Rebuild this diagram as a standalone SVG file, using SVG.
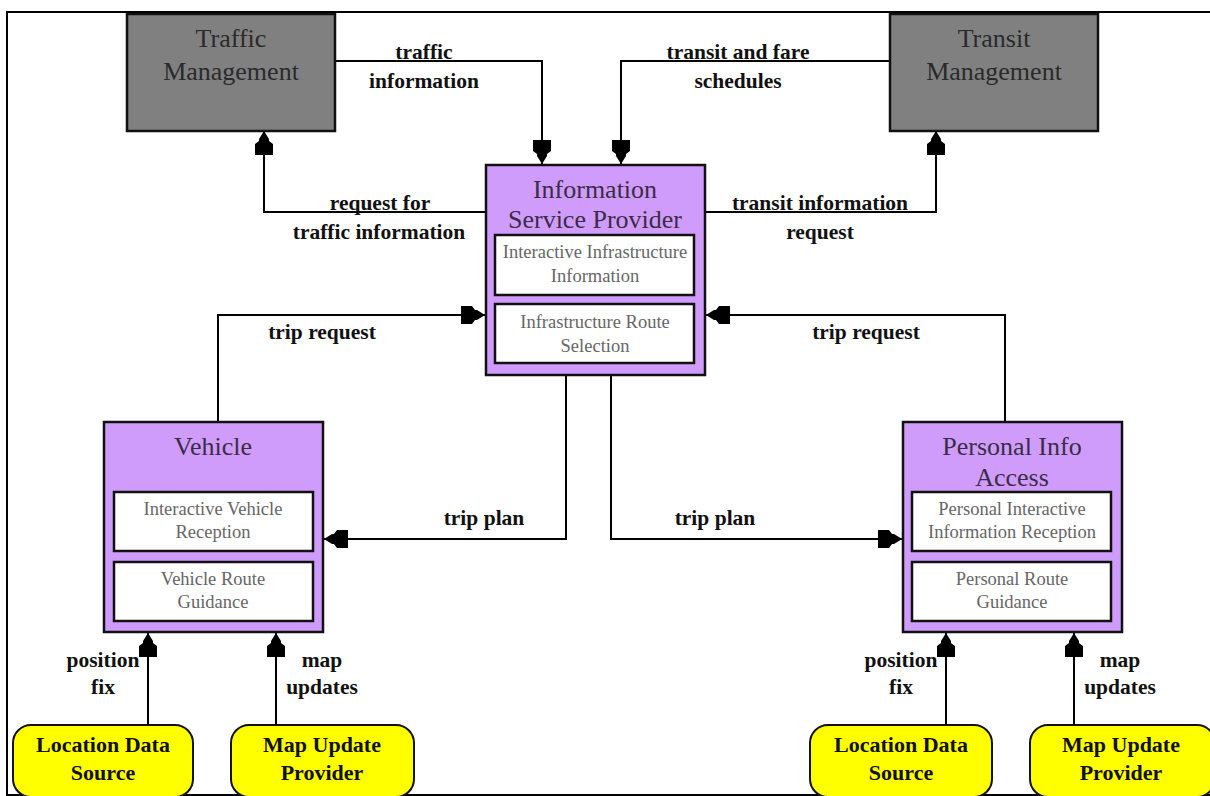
<svg xmlns="http://www.w3.org/2000/svg" width="1210" height="796" viewBox="0 0 1210 796">
<style>
.frame{fill:none;stroke:#000;stroke-width:2}
.gray{fill:#808080;stroke:#111;stroke-width:2.5}
.purple{fill:#d09cfb;stroke:#111;stroke-width:2.5}
.inner{fill:#fff;stroke:#111;stroke-width:2.5}
.yellow{fill:#ffff00;stroke:#111;stroke-width:2}
.title{font-family:"Liberation Serif","Times New Roman",serif;font-size:26px;fill:#2a2a2a;text-anchor:middle}
.ptitle{font-family:"Liberation Serif","Times New Roman",serif;font-size:26px;fill:#3a2c48;text-anchor:middle}
.sub{font-family:"Liberation Serif","Times New Roman",serif;font-size:18.5px;fill:#666;text-anchor:middle}
.ext{font-family:"Liberation Serif","Times New Roman",serif;font-size:22px;font-weight:bold;fill:#111;text-anchor:middle}
.lbl{font-family:"Liberation Serif","Times New Roman",serif;font-size:21.5px;font-weight:bold;fill:#111;text-anchor:middle}
.conn{fill:none;stroke:#000;stroke-width:2;marker-end:url(#ah)}
</style>
<defs>
<marker id="ah" markerUnits="userSpaceOnUse" viewBox="-25 -10 26 20" refX="0" refY="0" markerWidth="26" markerHeight="20" orient="auto">
<path d="M0,0 L-8,-5 L-10,-5 L-13,-9 L-24,-9 L-24,9 L-13,9 L-10,5 L-8,5 Z" fill="#000"/>
</marker>
</defs>
<rect class="frame" x="7" y="12" width="1215" height="783"/>

<g id="connectors">
<path class="conn" d="M335,61 H542 V164"/>
<path class="conn" d="M890,61 H621 V164"/>
<path class="conn" d="M486,212 H264 V131"/>
<path class="conn" d="M705,212 H936 V131"/>
<path class="conn" d="M218,422 V315 H485"/>
<path class="conn" d="M1005,422 V315 H706"/>
<path class="conn" d="M566,375 V539 H324"/>
<path class="conn" d="M611,375 V539 H902"/>
<path class="conn" d="M148,726 V633"/>
<path class="conn" d="M276,726 V633"/>
<path class="conn" d="M946,726 V633"/>
<path class="conn" d="M1074,726 V633"/>
<g id="labels">
<text class="lbl" x="424" y="59">traffic</text>
<text class="lbl" x="424" y="88">information</text>
<text class="lbl" x="738" y="59">transit and fare</text>
<text class="lbl" x="738" y="88">schedules</text>
<text class="lbl" x="380" y="210">request for</text>
<text class="lbl" x="379" y="239">traffic information</text>
<text class="lbl" x="820" y="210">transit information</text>
<text class="lbl" x="820" y="239">request</text>
<text class="lbl" x="322" y="339">trip request</text>
<text class="lbl" x="866" y="339">trip request</text>
<text class="lbl" x="484" y="525">trip plan</text>
<text class="lbl" x="715" y="525">trip plan</text>
<text class="lbl" x="103" y="667">position</text>
<text class="lbl" x="103" y="694">fix</text>
<text class="lbl" x="322" y="667">map</text>
<text class="lbl" x="322" y="694">updates</text>
<text class="lbl" x="901" y="667">position</text>
<text class="lbl" x="901" y="694">fix</text>
<text class="lbl" x="1120" y="667">map</text>
<text class="lbl" x="1120" y="694">updates</text>
</g>
</g>

<g id="traffic-management">
<rect class="gray" x="127" y="14" width="208" height="117"/>
<text class="title" x="231" y="47">Traffic</text>
<text class="title" x="231" y="80">Management</text>
</g>

<g id="transit-management">
<rect class="gray" x="890" y="14" width="208" height="117"/>
<text class="title" x="994" y="47">Transit</text>
<text class="title" x="994" y="80">Management</text>
</g>

<g id="isp">
<rect class="purple" x="486" y="165" width="219" height="210"/>
<text class="ptitle" x="595" y="198">Information</text>
<text class="ptitle" x="595" y="228">Service Provider</text>
<rect class="inner" x="495" y="235" width="199" height="60"/>
<text class="sub" x="595" y="258">Interactive Infrastructure</text>
<text class="sub" x="595" y="282">Information</text>
<rect class="inner" x="495" y="304" width="199" height="59"/>
<text class="sub" x="595" y="328">Infrastructure Route</text>
<text class="sub" x="595" y="352">Selection</text>
</g>

<g id="vehicle">
<rect class="purple" x="104" y="422" width="219" height="210"/>
<text class="ptitle" x="213" y="455">Vehicle</text>
<rect class="inner" x="114" y="492" width="199" height="59"/>
<text class="sub" x="213" y="515">Interactive Vehicle</text>
<text class="sub" x="213" y="538">Reception</text>
<rect class="inner" x="114" y="562" width="199" height="59"/>
<text class="sub" x="213" y="585">Vehicle Route</text>
<text class="sub" x="213" y="608">Guidance</text>
</g>

<g id="personal-info-access">
<rect class="purple" x="903" y="422" width="219" height="210"/>
<text class="ptitle" x="1012" y="455">Personal Info</text>
<text class="ptitle" x="1012" y="486">Access</text>
<rect class="inner" x="912" y="492" width="199" height="59"/>
<text class="sub" x="1012" y="515">Personal Interactive</text>
<text class="sub" x="1012" y="538">Information Reception</text>
<rect class="inner" x="912" y="562" width="199" height="59"/>
<text class="sub" x="1012" y="585">Personal Route</text>
<text class="sub" x="1012" y="608">Guidance</text>
</g>

<g id="location-data-source-1">
<rect class="yellow" x="13" y="725" width="180" height="72" rx="18"/>
<text class="ext" x="103" y="752">Location Data</text>
<text class="ext" x="103" y="780">Source</text>
</g>

<g id="map-update-provider-1">
<rect class="yellow" x="231" y="725" width="183" height="72" rx="18"/>
<text class="ext" x="322" y="752">Map Update</text>
<text class="ext" x="322" y="780">Provider</text>
</g>

<g id="location-data-source-2">
<rect class="yellow" x="810" y="725" width="182" height="72" rx="18"/>
<text class="ext" x="901" y="752">Location Data</text>
<text class="ext" x="901" y="780">Source</text>
</g>

<g id="map-update-provider-2">
<rect class="yellow" x="1030" y="725" width="185" height="72" rx="18"/>
<text class="ext" x="1121" y="752">Map Update</text>
<text class="ext" x="1121" y="780">Provider</text>
</g>
</svg>
